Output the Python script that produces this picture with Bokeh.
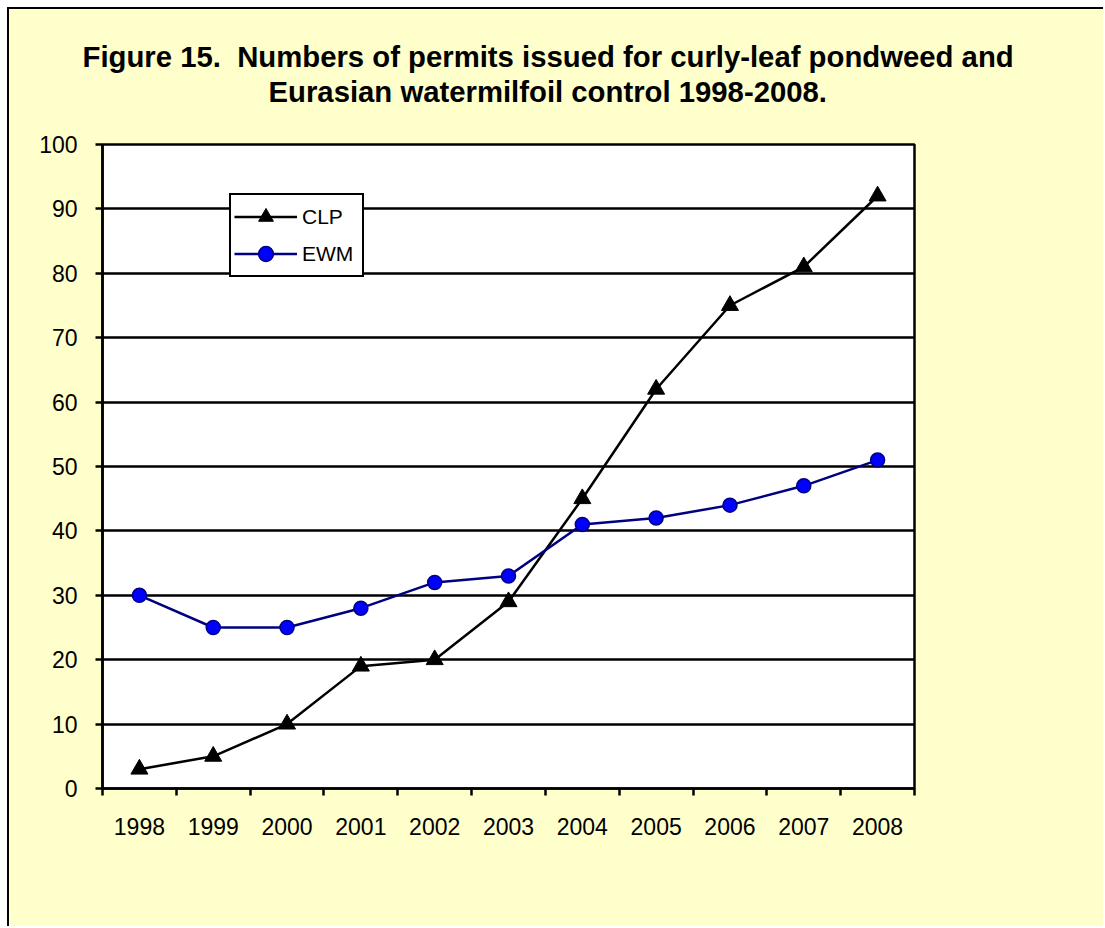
from bokeh.plotting import figure
from bokeh.models import FixedTicker, Title, Legend, LegendItem
from bokeh.embed import file_html
from bokeh.resources import INLINE

# ---- data ----
years = [1998, 1999, 2000, 2001, 2002, 2003, 2004, 2005, 2006, 2007, 2008]
clp = [3, 5, 10, 19, 20, 29, 45, 62, 75, 81, 92]
ewm = [30, 25, 25, 28, 32, 33, 41, 42, 44, 47, 51]
y_ticks = [0, 10, 20, 30, 40, 50, 60, 70, 80, 90, 100]
title_line1 = "Figure 15.\u00a0 Numbers of permits issued for curly-leaf pondweed and"
title_line2 = "Eurasian watermilfoil control 1998-2008."
series_names = ["CLP", "EWM"]

FONT = "Liberation Sans"
YELLOW = "#FFFFCC"

W, H = 1096, 919
FL, FT, FR, FB = 93, 135, 905, 779   # frame edges in canvas px
p = figure(width=W, height=H,
           x_range=(years[0] - 0.5, years[-1] + 0.5), y_range=(y_ticks[0], y_ticks[-1]),
           output_backend="svg", toolbar_location=None, title=None,
           min_border_left=FL, min_border_right=W - FR,
           min_border_top=FT, min_border_bottom=H - FB,
           background_fill_color="white", border_fill_color=YELLOW)
p.styles = {"margin-left": "7px", "margin-top": "7px",
            "border-left": "2px solid black", "border-top": "2px solid black"}

p.outline_line_color = "black"
p.outline_line_width = 2.5

# titles: spacer closest to the frame, then line 2, then line 1
spacer = Title(text="\u00a0", text_font=FONT, text_font_size="1px", standoff=34)
t2 = Title(text=title_line2, align="left", text_font=FONT, text_font_size="29.3px",
           text_font_style="bold", text_color="black", offset=166, standoff=0)
t1 = Title(text=title_line1, align="left", text_font=FONT, text_font_size="29.3px",
           text_font_style="bold", text_color="black", offset=-20, standoff=0)
p.add_layout(spacer, "above")
p.add_layout(t2, "above")
p.add_layout(t1, "above")

# axes
p.xaxis.ticker = FixedTicker(ticks=years, minor_ticks=[y + 0.5 for y in [years[0] - 1] + years])
p.xaxis.major_tick_out = 0
p.xaxis.major_tick_in = 0
p.xaxis.minor_tick_out = 7
p.xaxis.minor_tick_in = 0
p.xaxis.minor_tick_line_width = 2.5
p.xaxis.minor_tick_line_color = "black"
p.xaxis.major_label_standoff = 22

p.yaxis.ticker = FixedTicker(ticks=y_ticks)
p.yaxis.major_tick_out = 7
p.yaxis.major_tick_in = 0
p.yaxis.minor_tick_line_color = None
p.yaxis.major_tick_line_width = 2.5
p.yaxis.major_label_standoff = 18

for ax in (p.xaxis, p.yaxis):
    ax.axis_line_color = "black"
    ax.axis_line_width = 2.5
    ax.major_tick_line_color = "black"
    ax.major_label_text_font = FONT
    ax.major_label_text_font_size = "23px"
    ax.major_label_text_color = "black"

p.xgrid.grid_line_color = None
p.ygrid.ticker = FixedTicker(ticks=y_ticks)
p.ygrid.grid_line_color = "black"
p.ygrid.grid_line_width = 2.5
p.ygrid.grid_line_alpha = 1.0

# series
l1 = p.line(years, clp, line_color="black", line_width=2.5)
s1 = p.scatter(years, clp, marker="triangle", size=17, fill_color="black", line_color="black")
l2 = p.line(years, ewm, line_color="#000080", line_width=2.5)
s2 = p.scatter(years, ewm, marker="circle", size=14, fill_color="#0000FF",
               line_color="#000080", line_width=1.5)

legend = Legend(items=[LegendItem(label=series_names[0], renderers=[l1, s1]),
                       LegendItem(label=series_names[1], renderers=[l2, s2])],
                location=(127, 511), orientation="vertical",
                label_text_font=FONT, label_text_font_size="21px", label_text_color="black",
                glyph_width=63, glyph_height=37, label_height=37, label_width=57,
                label_standoff=5, spacing=0, padding=3, margin=0,
                border_line_color="black", border_line_width=2, border_line_alpha=1.0,
                background_fill_color="white", background_fill_alpha=1.0)
p.add_layout(legend, "center")

open("out.html", "w").write(file_html(p, INLINE))
